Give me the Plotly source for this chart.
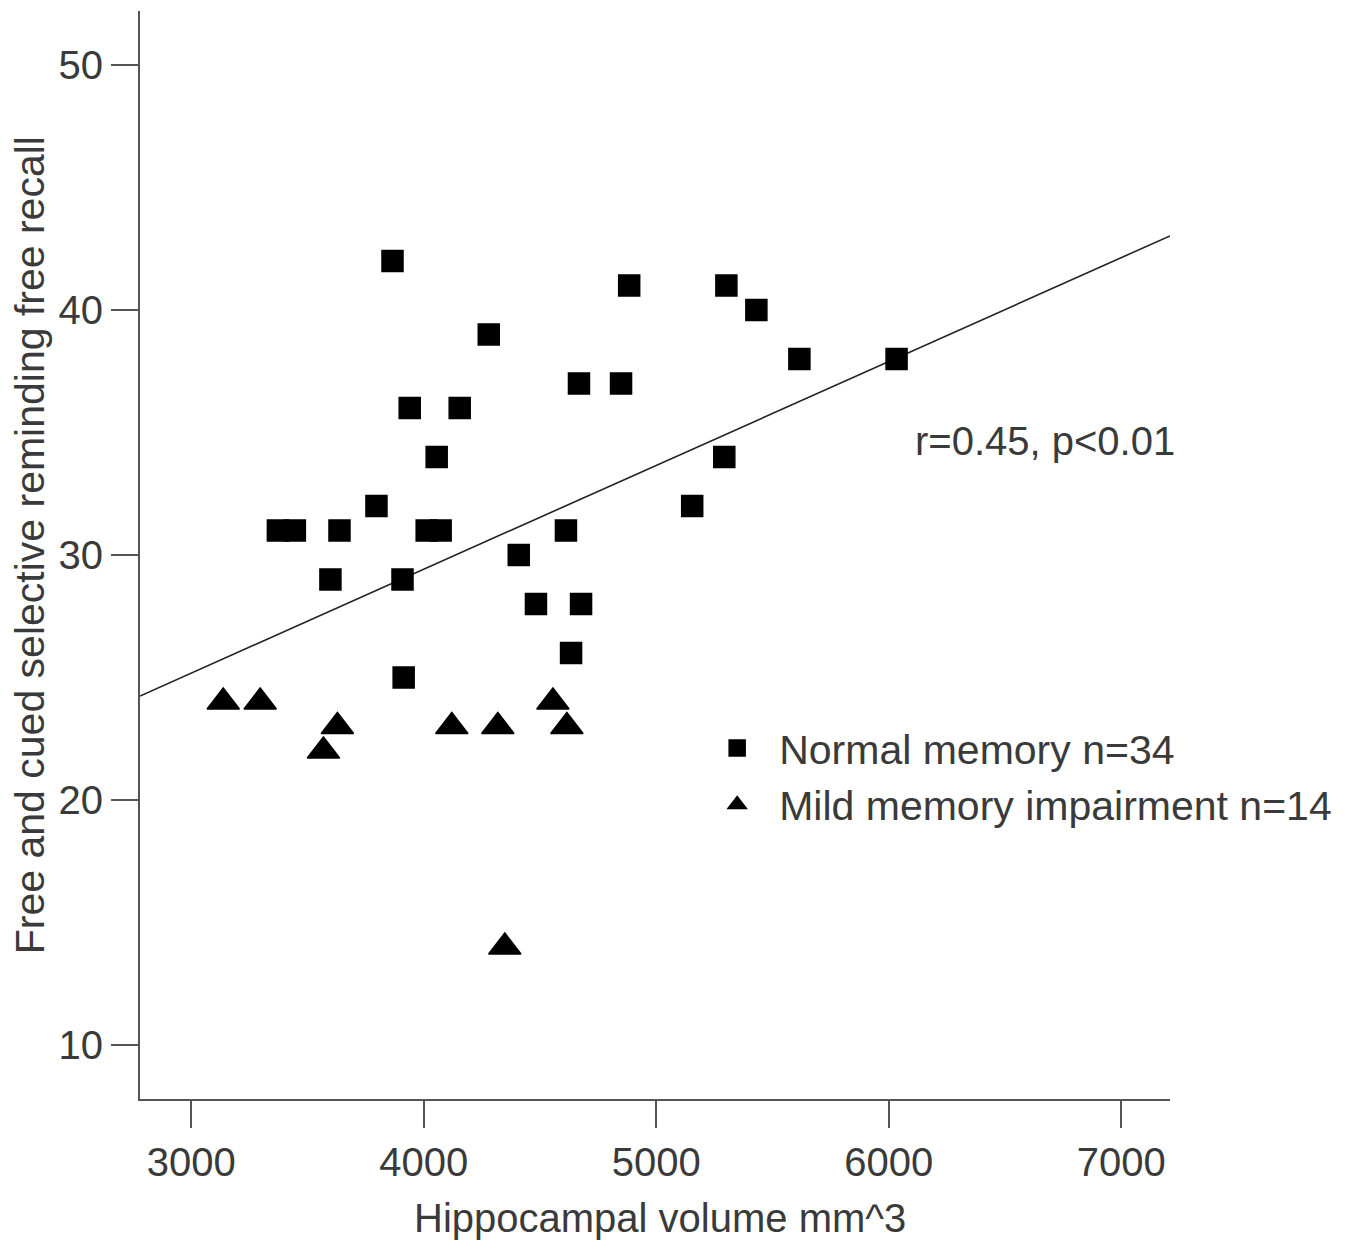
import plotly.graph_objects as go

# ---- data ----
normal_volume = [3866, 4884, 5302, 5431, 4280, 5616, 6034, 4668, 4849, 3940,
                 4155, 4056, 5293, 3797, 5155, 3373, 3446, 3638, 4013, 4073,
                 4612, 4409, 3599, 3909, 4483, 4677, 4634, 3914]
normal_recall = [42, 41, 41, 40, 39, 38, 38, 37, 37, 36,
                 36, 34, 34, 32, 32, 31, 31, 31, 31, 31,
                 31, 30, 29, 29, 28, 28, 26, 25]

mci_volume = [3138, 3297, 3569, 3629, 4121, 4319, 4349, 4556, 4616]
mci_recall = [24, 24, 22, 23, 23, 23, 14, 24, 23]

fit_intercept = 12.46
fit_slope = 0.004239

x_range = [2780, 7210]
y_range = [7.8, 52.2]
x_ticks = [3000, 4000, 5000, 6000, 7000]
y_ticks = [10, 20, 30, 40, 50]

normal_label = "Normal memory n=34"
mci_label = "Mild memory impairment n=14"
annotation_text = "r=0.45, p<0.01"
x_title = "Hippocampal volume mm^3"
y_title = "Free and cued selective reminding free recall"

FONT = "Liberation Sans, Arial, Helvetica, sans-serif"
TXT = "#3a3a3a"
AX = "#555555"

fig = go.Figure()

fit_x = list(x_range)
fit_y = [fit_intercept + fit_slope * v for v in fit_x]
fig.add_trace(go.Scatter(x=fit_x, y=fit_y, mode="lines",
                         line=dict(color="#222222", width=1.6),
                         showlegend=False, hoverinfo="skip"))

fig.add_trace(go.Scatter(x=normal_volume, y=normal_recall, mode="markers",
                         name=normal_label,
                         marker=dict(symbol="square", size=21, color="#000000",
                                     line=dict(color="#000000", width=1.5))))
fig.add_trace(go.Scatter(x=mci_volume, y=mci_recall, mode="markers",
                         name=mci_label,
                         marker=dict(symbol="triangle-up", size=28, color="#000000",
                                     line=dict(color="#000000", width=1.5))))

fig.add_annotation(x=0.7505, y=0.6048, xref="paper", yref="paper",
                   text=annotation_text, showarrow=False,
                   xanchor="left", yanchor="middle",
                   font=dict(family=FONT, size=40, color=TXT))
fig.add_annotation(x=0.505, y=-0.109, xref="paper", yref="paper",
                   text=x_title, showarrow=False,
                   xanchor="center", yanchor="middle",
                   font=dict(family=FONT, size=40, color=TXT))
fig.add_annotation(x=-0.1068, y=0.509, xref="paper", yref="paper",
                   text=y_title, showarrow=False, textangle=-90,
                   xanchor="center", yanchor="middle",
                   font=dict(family=FONT, size=41, color=TXT))

fig.update_layout(
    width=1350, height=1243,
    margin=dict(l=140, r=180, t=11, b=144),
    paper_bgcolor="white", plot_bgcolor="white",
    font=dict(family=FONT, size=40, color=TXT),
    showlegend=True,
    legend=dict(x=0.539, y=0.353, xanchor="left", yanchor="top",
                bgcolor="rgba(0,0,0,0)", borderwidth=0,
                itemwidth=74, tracegroupgap=0,
                font=dict(family=FONT, size=41, color=TXT)),
    xaxis=dict(range=x_range, tickvals=x_ticks, showgrid=False, zeroline=False,
               showline=True, linecolor=AX, linewidth=2,
               ticks="outside", ticklen=27, tickwidth=2, tickcolor=AX,
               tickfont=dict(family=FONT, size=40, color=TXT)),
    yaxis=dict(range=y_range, tickvals=y_ticks, showgrid=False, zeroline=False,
               showline=True, linecolor=AX, linewidth=2,
               ticks="outside", ticklen=27, tickwidth=2, tickcolor=AX,
               tickfont=dict(family=FONT, size=40, color=TXT)),
)

fig.write_html("out.html", config={"displayModeBar": False},
               post_script="document.body.style.margin='0';document.body.style.overflow='hidden';")
